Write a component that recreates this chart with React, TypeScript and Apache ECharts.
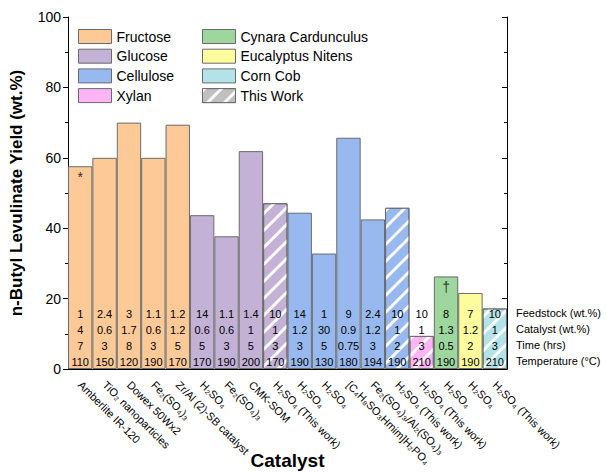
import { useEffect, useRef } from 'react';
import * as echarts from 'echarts';

// Catalyst used for each bar, left to right
const catalysts = [
  'Amberlite IR-120',
  'TiO₂ nanoparticles',
  'Dowex 50Wx2',
  'Fe₂(SO₄)₃',
  'Zr/Al (2)-SB catalyst',
  'H₂SO₄',
  'Fe₂(SO₄)₃',
  'CMK-SOM',
  'H₂SO₄ (This work)',
  'H₂SO₄',
  'H₂SO₄',
  '[C₄H₈SO₃Hmim]H₂PO₄',
  'Fe₂(SO₄)₃/Al₂(SO₄)₃',
  'H₂SO₄ (This work)',
  'H₂SO₄ (This work)',
  'H₂SO₄',
  'H₂SO₄',
  'H₂SO₄ (This work)',
];

const feedstocks = [
  'Fructose',
  'Glucose',
  'Cellulose',
  'Xylan',
  'Cynara Cardunculus',
  'Eucalyptus Nitens',
  'Corn Cob',
];

const feedstockOf = [
  'Fructose', 'Fructose', 'Fructose', 'Fructose', 'Fructose',
  'Glucose', 'Glucose', 'Glucose', 'Glucose',
  'Cellulose', 'Cellulose', 'Cellulose', 'Cellulose', 'Cellulose',
  'Xylan',
  'Cynara Cardunculus',
  'Eucalyptus Nitens',
  'Corn Cob',
];

// n-butyl levulinate yield, wt.%
const yields = [57.6, 60, 70, 60, 69.4, 43.7, 37.7, 61.9, 47.1, 44.4, 32.8, 65.7, 42.5, 45.8, 9.4, 26.3, 21.6, 17.2];

const thisWork = [
  false, false, false, false, false,
  false, false, false, true,
  false, false, false, false, true,
  true, false, false, true,
];

// Reaction conditions shown inside each bar
const feedstockWt = ['1', '2.4', '3', '1.1', '1.2', '14', '1.1', '1.4', '10', '14', '1', '9', '2.4', '10', '10', '8', '7', '10'];
const catalystWt = ['4', '0.6', '1.7', '0.6', '1.2', '0.6', '0.6', '1', '1', '1.2', '30', '0.9', '1.2', '1', '1', '1.3', '1.2', '1'];
const timeHrs = ['7', '3', '8', '3', '5', '5', '3', '5', '3', '3', '5', '0.75', '3', '2', '3', '0.5', '2', '3'];
const temperatureC = ['110', '150', '120', '190', '170', '170', '190', '200', '170', '190', '130', '180', '194', '190', '210', '190', '190', '210'];

const notes = ['*', '', '', '', '', '', '', '', '', '', '', '', '', '', '', '†', '', ''];

const rowLabels = ['Feedstock (wt.%)', 'Catalyst (wt.%)', 'Time (hrs)', 'Temperature (°C)'];

const yTicks = [0, 100, 20];

const colors: Record<string, string> = {
  Fructose: '#FDC997',
  Glucose: '#C3B1D6',
  Cellulose: '#97B9EF',
  Xylan: '#FDB5F6',
  'Cynara Cardunculus': '#9DD79D',
  'Eucalyptus Nitens': '#FDFD9D',
  'Corn Cob': '#B3E3E9',
  'This Work': '#C0C0C0',
};

const FONT = '"Liberation Sans", Arial, sans-serif';
const BORDER = '#6B6B6B';

const hatch = {
  symbol: 'rect',
  symbolSize: 1,
  dashArrayX: [1, 0],
  dashArrayY: [3, 9],
  rotation: -Math.PI / 4,
  color: 'rgba(255,255,255,0.95)',
};

export default function App() {
  const ref = useRef<HTMLDivElement>(null);

  useEffect(() => {
    if (!ref.current) return;
    const chart = echarts.init(ref.current, null, { renderer: 'svg' });

    const tableText = (i: number) =>
      [feedstockWt[i], catalystWt[i], timeHrs[i], temperatureC[i]].join('\n');

    const barSeries: any[] = feedstocks.map((name) => ({
      type: 'bar',
      name,
      stack: 'yield',
      xAxisIndex: 0,
      yAxisIndex: 0,
      barCategoryGap: '0%',
      itemStyle: { color: colors[name], borderColor: BORDER, borderWidth: 1 },
      label: {
        show: true,
        position: 'insideBottom',
        distance: -1,
        formatter: (p: any) => tableText(p.dataIndex),
        fontSize: 11,
        lineHeight: 16,
        color: '#000',
        fontFamily: FONT,
      },
      data: yields.map((v, i) =>
        feedstockOf[i] === name
          ? thisWork[i]
            ? { value: v, itemStyle: { decal: hatch } }
            : v
          : '-'
      ),
    }));

    barSeries.push({
      type: 'bar',
      name: 'This Work',
      stack: 'yield',
      xAxisIndex: 0,
      yAxisIndex: 0,
      itemStyle: { color: colors['This Work'], borderColor: BORDER, borderWidth: 1, decal: hatch },
      data: [],
    });

    const noteSeries = {
      type: 'scatter',
      xAxisIndex: 0,
      yAxisIndex: 0,
      symbolSize: 0,
      data: notes
        .map((n, i) => (n ? { value: [i, yields[i]], label: { formatter: n } } : null))
        .filter(Boolean),
      label: {
        show: true,
        position: 'bottom',
        distance: 4,
        fontSize: 14,
        color: '#000',
        fontFamily: FONT,
      },
    };

    const gridRect = {
      left: 68,
      right: 99,
      top: 17,
      bottom: 104,
      containLabel: false,
      outerBoundsMode: 'none',
    };

    const legendBase = {
      top: 29,
      orient: 'vertical',
      padding: 0,
      itemWidth: 33,
      itemHeight: 14,
      itemGap: 4.7,
      icon: 'rect',
      selectedMode: false,
      itemStyle: { borderColor: BORDER, borderWidth: 1 },
      textStyle: { fontSize: 14, color: '#000', fontFamily: FONT },
    };

    chart.setOption({
      animation: false,
      textStyle: { fontFamily: FONT },
      grid: [
        { ...gridRect },
        { ...gridRect },
      ],
      legend: [
        { ...legendBase, left: 78, data: feedstocks.slice(0, 4) },
        { ...legendBase, left: 202, data: [...feedstocks.slice(4), 'This Work'] },
      ],
      xAxis: [
        {
          type: 'category',
          gridIndex: 0,
          position: 'bottom',
          data: catalysts,
          boundaryGap: true,
          name: 'Catalyst',
          nameLocation: 'middle',
          nameGap: 82,
          nameMoveOverlap: false,
          nameTextStyle: { fontSize: 19, fontWeight: 'bold', color: '#000', fontFamily: FONT },
          axisLine: { lineStyle: { color: '#000', width: 1 } },
          axisTick: { alignWithLabel: true, length: 5, lineStyle: { color: '#000' } },
          axisLabel: {
            interval: 0,
            rotate: -45,
            fontSize: 11,
            color: '#000',
            margin: 14,
            fontFamily: FONT,
          },
        },
        {
          type: 'category',
          gridIndex: 0,
          position: 'top',
          data: catalysts,
          boundaryGap: true,
          axisLine: { lineStyle: { color: '#000', width: 1 } },
          axisTick: { alignWithLabel: false, inside: true, length: 5, lineStyle: { color: '#000' } },
          axisLabel: { show: false },
        },
        {
          type: 'category',
          gridIndex: 1,
          position: 'bottom',
          data: catalysts,
          boundaryGap: true,
          axisLine: { show: false },
          axisTick: { alignWithLabel: false, length: 2, lineStyle: { color: '#000' } },
          axisLabel: { show: false },
        },
        {
          type: 'category',
          gridIndex: 1,
          position: 'top',
          data: catalysts,
          boundaryGap: true,
          axisLine: { show: false },
          axisTick: { alignWithLabel: true, inside: true, length: 2, lineStyle: { color: '#000' } },
          axisLabel: { show: false },
        },
      ],
      yAxis: [
        {
          type: 'value',
          gridIndex: 0,
          position: 'left',
          min: yTicks[0],
          max: yTicks[1],
          interval: yTicks[2],
          name: 'n-Butyl Levulinate Yield (wt.%)',
          nameLocation: 'middle',
          nameGap: 43,
          nameMoveOverlap: false,
          nameTextStyle: { fontSize: 17, fontWeight: 'bold', color: '#000', fontFamily: FONT },
          axisLine: { show: true, lineStyle: { color: '#000', width: 1 } },
          axisTick: { show: true, length: 5, lineStyle: { color: '#000' } },
          minorTick: { show: true, splitNumber: 2, length: 3, lineStyle: { color: '#000' } },
          splitLine: { show: false },
          axisLabel: { fontSize: 14, color: '#000', margin: 7, fontFamily: FONT },
        },
        {
          type: 'value',
          gridIndex: 0,
          position: 'right',
          min: yTicks[0],
          max: yTicks[1],
          interval: yTicks[2],
          axisLine: { show: true, lineStyle: { color: '#000', width: 1 } },
          axisTick: { show: true, inside: true, length: 5, lineStyle: { color: '#000' } },
          minorTick: { show: true, splitNumber: 2, length: 3, lineStyle: { color: '#000' } },
          splitLine: { show: false },
          axisLabel: { show: false },
        },
        {
          type: 'value',
          gridIndex: 1,
          min: yTicks[0],
          max: yTicks[1],
          show: false,
        },
      ],
      graphic: rowLabels.map((t, k) => ({
        type: 'text',
        left: 516,
        top: 307 + k * 16,
        style: { text: t, fontSize: 11, fill: '#000', fontFamily: FONT },
      })),
      series: [...barSeries, noteSeries],
    });

    return () => chart.dispose();
  }, []);

  return (
    <div
      ref={ref}
      style={{ position: 'fixed', left: 0, top: 0, width: 606, height: 473, background: '#fff' }}
    />
  );
}
